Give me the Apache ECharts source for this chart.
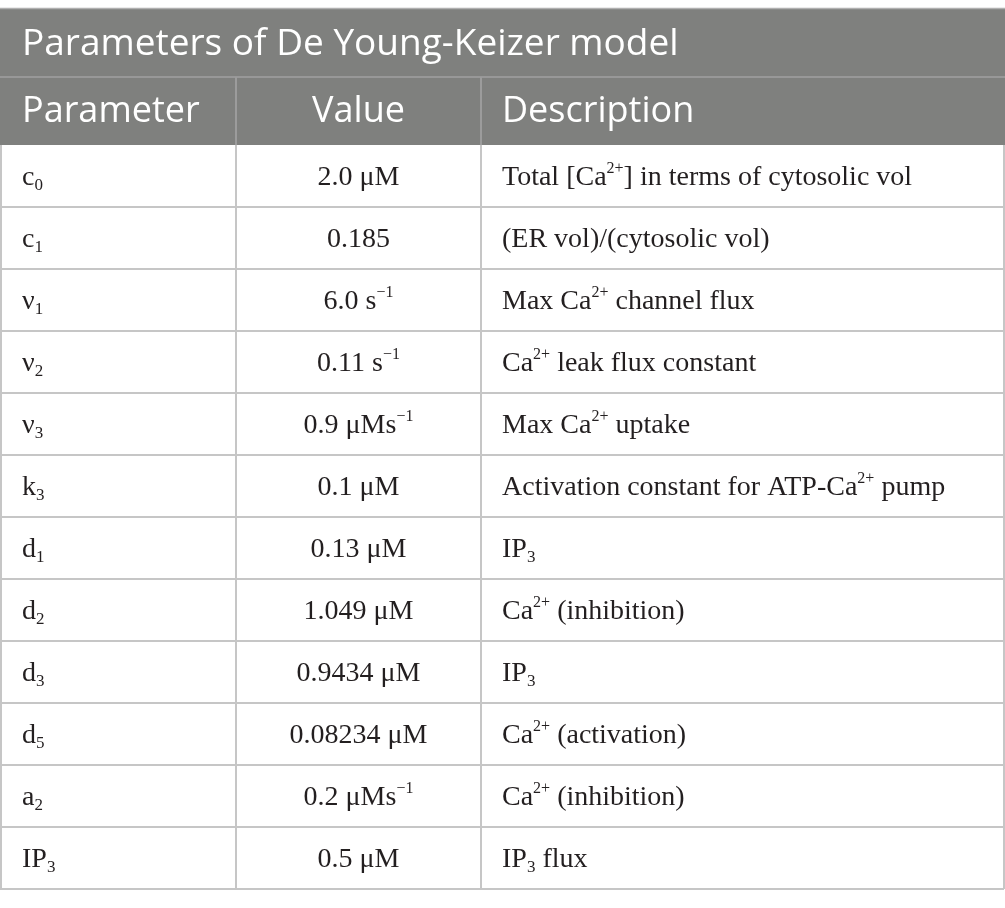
<!DOCTYPE html>
<html>
<head>
<meta charset="utf-8">
<title>Parameters of De Young-Keizer model</title>
<script src="https://cdn.jsdelivr.net/npm/echarts@6/dist/echarts.min.js"></script>
<style>
html, body { margin: 0; padding: 0; background: #fff; }
#chart { width: 1005px; height: 908px; }
</style>
</head>
<body>
<div id="chart"></div>
<script>
// table content, _{..} = subscript, ^{..} = superscript
var tableTitle = 'Parameters of De Young-Keizer model';
var headers = ['Parameter', 'Value', 'Description'];
var params = ['c_{0}', 'c_{1}', 'ν_{1}', 'ν_{2}', 'ν_{3}', 'k_{3}', 'd_{1}', 'd_{2}', 'd_{3}', 'd_{5}', 'a_{2}', 'IP_{3}'];
var values = ['2.0 μM', '0.185', '6.0 s^{−1}', '0.11 s^{−1}', '0.9 μMs^{−1}', '0.1 μM',
    '0.13 μM', '1.049 μM', '0.9434 μM', '0.08234 μM', '0.2 μMs^{−1}', '0.5 μM'];
var descriptions = [
    'Total [Ca^{2+}] in terms of cytosolic vol',
    '(ER vol)/(cytosolic vol)',
    'Max Ca^{2+} channel flux',
    'Ca^{2+} leak flux constant',
    'Max Ca^{2+} uptake',
    'Activation constant for ATP-Ca^{2+} pump',
    'IP_{3}',
    'Ca^{2+} (inhibition)',
    'IP_{3}',
    'Ca^{2+} (activation)',
    'Ca^{2+} (inhibition)',
    'IP_{3} flux'
];

// layout
var colEdges = [0, 236, 481, 1004];
var padLeft = 22;
var headFill = '#7f807e';
var lineColor = '#c6c6c6';
var textColor = '#231f20';
var serif = '"Liberation Serif", "DejaVu Serif", serif';
var sans = '"Open Sans", "Noto Sans", sans-serif';

var richStyle = {
    b: { fontFamily: serif, fontSize: 28, lineHeight: 34, fill: textColor },
    sub: { fontFamily: serif, fontSize: 17, lineHeight: 13, verticalAlign: 'bottom', fill: textColor },
    sup: { fontFamily: serif, fontSize: 16, lineHeight: 25, verticalAlign: 'top', fill: textColor }
};

function toRich(s) {
    var parts = s.split(/(_\{[^}]*\}|\^\{[^}]*\})/);
    var out = '';
    for (var i = 0; i < parts.length; i++) {
        var p = parts[i];
        if (p === '') continue;
        if (p.indexOf('_{') === 0) {
            out += '{sub|' + p.slice(2, -1) + '}';
        } else if (p.indexOf('^{') === 0) {
            out += '{sup|' + p.slice(2, -1) + '}';
        } else {
            out += '{b|' + p + '}';
        }
    }
    return out;
}

function cellText(x, y, s, align) {
    return {
        type: 'text',
        style: {
            x: x, y: y,
            text: toRich(s),
            rich: richStyle,
            align: align,
            verticalAlign: 'middle'
        }
    };
}

function vline(x, y1, y2, color) {
    return {
        type: 'line',
        shape: { x1: x, y1: y1, x2: x, y2: y2 },
        style: { stroke: color, lineWidth: 2 }
    };
}

function renderRow(p, api) {
    var row = api.value(1);
    var c = api.coord([0, row]);
    var h = api.size([0, 1])[1];
    var top = c[1] - h / 2;
    var bottom = c[1] + h / 2;
    var xs = colEdges.map(function (e) { return api.coord([e, row])[0]; });
    var ty = c[1] + 1.5;
    var children = [
        {
            type: 'line',
            shape: { x1: xs[0], y1: bottom, x2: xs[3], y2: bottom },
            style: { stroke: lineColor, lineWidth: 2 }
        }
    ];
    for (var i = 0; i < xs.length; i++) {
        children.push(vline(Math.max(xs[i], 1), top, bottom, lineColor));
    }
    children.push(cellText(xs[0] + padLeft, ty, params[row], 'left'));
    children.push(cellText((xs[1] + xs[2]) / 2, ty, values[row], 'center'));
    children.push(cellText(xs[2] + padLeft - 1, ty, descriptions[row], 'left'));
    return { type: 'group', children: children };
}

var chart = echarts.init(document.getElementById('chart'), null, { renderer: 'canvas' });

chart.setOption({
    animation: false,
    backgroundColor: '#fff',
    grid: { left: 0, right: 0, top: 145, bottom: 19, containLabel: false },
    xAxis: { type: 'value', min: 0, max: 1005, show: false },
    yAxis: {
        type: 'category', data: params, inverse: true, show: false
    },
    graphic: [
        { type: 'rect', shape: { x: 0, y: 8, width: 1005, height: 137 }, style: { fill: headFill } },
        { type: 'line', shape: { x1: 0, y1: 8.5, x2: 1005, y2: 8.5 }, style: { stroke: '#b0b0b0', lineWidth: 1.5 } },
        { type: 'line', shape: { x1: 0, y1: 77, x2: 1005, y2: 77 }, style: { stroke: '#989898', lineWidth: 2 } },
        { type: 'line', shape: { x1: colEdges[1], y1: 77, x2: colEdges[1], y2: 145 }, style: { stroke: '#9c9c9c', lineWidth: 2 } },
        { type: 'line', shape: { x1: colEdges[2], y1: 77, x2: colEdges[2], y2: 145 }, style: { stroke: '#9c9c9c', lineWidth: 2 } },
        {
            type: 'text',
            style: { x: padLeft, y: 44, text: tableTitle, fill: '#fff', font: '37px ' + sans, verticalAlign: 'middle' }
        },
        {
            type: 'text',
            style: { x: padLeft, y: 112, text: headers[0], fill: '#fff', font: '36px ' + sans, verticalAlign: 'middle' }
        },
        {
            type: 'text',
            style: { x: (colEdges[1] + colEdges[2]) / 2, y: 112, text: headers[1], fill: '#fff', font: '36px ' + sans, align: 'center', verticalAlign: 'middle' }
        },
        {
            type: 'text',
            style: { x: colEdges[2] + padLeft - 1, y: 112, text: headers[2], fill: '#fff', font: '36px ' + sans, verticalAlign: 'middle' }
        }
    ],
    series: [{
        type: 'custom',
        renderItem: renderRow,
        encode: { x: 0, y: 1 },
        data: params.map(function (p, i) { return [0, i]; })
    }]
});
</script>
</body>
</html>
